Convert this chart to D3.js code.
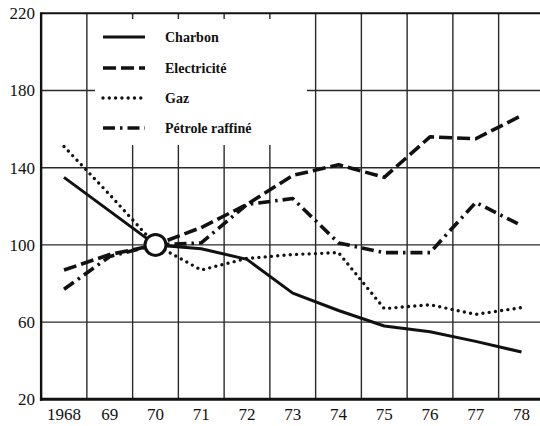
<!DOCTYPE html>
<html>
<head>
<meta charset="utf-8">
<script src="https://cdn.jsdelivr.net/npm/d3@7"></script>
<style>
  body { margin: 0; background: #fff; }
  svg { display: block; }
</style>
</head>
<body>
<div id="chart"></div>
<script>
'use strict'

// indices 1970 = 100
const years = [1968, 1969, 1970, 1971, 1972, 1973, 1974, 1975, 1976, 1977, 1978]
const yearLabels = ['1968', '69', '70', '71', '72', '73', '74', '75', '76', '77', '78']
const charbon = [135, 117.5, 100, 98, 92.5, 75, 66, 58, 55, 50, 44.5]
const electricite = [87, 95, 100, 109, 121, 136, 141.5, 135, 156, 155, 167]
const gaz = [151, 126, 100, 87, 93, 95, 96, 67, 69, 64, 67.5]
const petrole = [77, 94, 100, 101, 121, 124, 101, 96, 96, 122, 110]
const yTicks = [20, 60, 100, 140, 180, 220]
const seriesNames = ['Charbon', 'Electricité', 'Gaz', 'Pétrole raffiné']

const serif = '"Liberation Serif", "Times New Roman", Times, serif'

const width = 540,
  height = 426

const x = d3.scaleLinear()
  .domain([1968, 1978])
  .range([64, 521.5])

const y = d3.scaleLinear()
  .domain([20, 220])
  .range([399.3, 13.3])

const left = x(1967.5),
  right = width

const svg = d3.select('#chart').append('svg')
  .attr('width', width)
  .attr('height', height)

// grid
const grid = svg.append('g')
  .attr('stroke', '#2a2a2a')
  .attr('stroke-width', 1.4)

grid.selectAll('.hgrid')
  .data(yTicks.slice(1, -1))
  .enter().append('line')
  .attr('x1', left)
  .attr('x2', right)
  .attr('y1', d => y(d))
  .attr('y2', d => y(d))

grid.selectAll('.vgrid')
  .data(years.slice(0, -1).map(d => d + 0.5))
  .enter().append('line')
  .attr('x1', d => x(d))
  .attr('x2', d => x(d))
  .attr('y1', y(220))
  .attr('y2', y(20))

// legend sits on a white patch over the grid
svg.append('rect')
  .attr('x', 95)
  .attr('y', 19)
  .attr('width', 212)
  .attr('height', 126)
  .attr('fill', '#fff')

// frame
svg.append('line')
  .attr('x1', left).attr('x2', right)
  .attr('y1', y(220)).attr('y2', y(220))
  .attr('stroke', '#111').attr('stroke-width', 2)
svg.append('line')
  .attr('x1', left).attr('x2', left)
  .attr('y1', y(220) - 1).attr('y2', y(20) + 1.5)
  .attr('stroke', '#111').attr('stroke-width', 2.4)
svg.append('line')
  .attr('x1', left - 1.2).attr('x2', right)
  .attr('y1', y(20)).attr('y2', y(20))
  .attr('stroke', '#111').attr('stroke-width', 3)

const styles = [
  { data: charbon, dash: null, width: 3, cap: 'butt' },
  { data: electricite, dash: '13,5', width: 3.6, cap: 'butt' },
  { data: gaz, dash: '0,6.3', width: 3.4, cap: 'round' },
  { data: petrole, dash: '12,5,2.5,5', width: 3.6, cap: 'butt' }
]

const line = d3.line()
  .x((d, i) => x(years[i]))
  .y(d => y(d))

const drawOrder = [2, 0, 1, 3]
drawOrder.forEach(k => {
  const s = styles[k]
  svg.append('path')
    .datum(s.data)
    .attr('d', line)
    .attr('fill', 'none')
    .attr('stroke', '#111')
    .attr('stroke-width', s.width)
    .attr('stroke-linecap', s.cap)
    .attr('stroke-linejoin', 'round')
    .attr('stroke-dasharray', s.dash)
})

// base year marker
svg.append('circle')
  .attr('cx', x(1970))
  .attr('cy', y(100))
  .attr('r', 10.5)
  .attr('fill', '#fff')
  .attr('stroke', '#111')
  .attr('stroke-width', 3)

// y labels
svg.selectAll('.ylab')
  .data(yTicks)
  .enter().append('text')
  .attr('x', 35)
  .attr('y', d => y(d))
  .attr('dy', '0.35em')
  .attr('text-anchor', 'end')
  .attr('font-family', serif)
  .attr('font-size', 17)
  .attr('fill', '#111')
  .text(d => d)

// x labels
svg.selectAll('.xlab')
  .data(years)
  .enter().append('text')
  .attr('x', d => x(d))
  .attr('y', 420)
  .attr('text-anchor', 'middle')
  .attr('font-family', serif)
  .attr('font-size', 17)
  .attr('fill', '#111')
  .text((d, i) => yearLabels[i])

// legend
const legend = svg.append('g')
const rowY = [37, 68, 98, 128]
seriesNames.forEach((name, k) => {
  const s = styles[k]
  legend.append('line')
    .attr('x1', 103)
    .attr('x2', 145)
    .attr('y1', rowY[k])
    .attr('y2', rowY[k])
    .attr('stroke', '#111')
    .attr('stroke-width', s.width)
    .attr('stroke-linecap', s.cap)
    .attr('stroke-dasharray', s.dash)
  legend.append('text')
    .attr('x', 165)
    .attr('y', rowY[k])
    .attr('dy', '0.35em')
    .attr('font-family', serif)
    .attr('font-size', 14)
    .attr('font-weight', 'bold')
    .attr('fill', '#111')
    .text(name)
})
</script>
</body>
</html>
